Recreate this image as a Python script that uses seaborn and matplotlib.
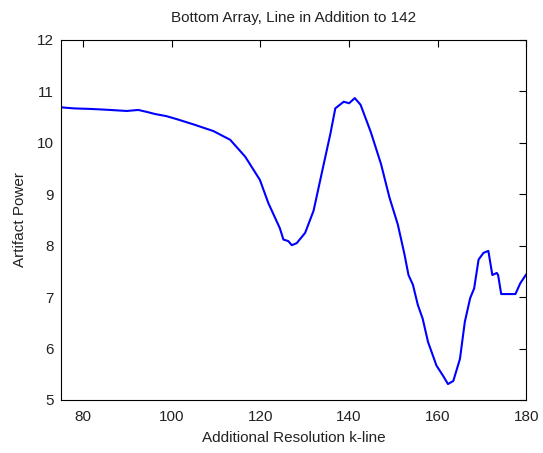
import matplotlib
matplotlib.use("Agg")
import matplotlib.pyplot as plt
import seaborn as sns
import pandas as pd

# Artifact power sampled along the additional resolution k-line
k_line = [75.2, 78.0, 81.6, 84.0, 86.1, 89.9, 92.5, 94.5, 96.3, 98.8, 101.2, 104.9,
          109.4, 113.2, 116.6, 119.9, 121.8, 124.4, 125.2, 126.3, 127.1, 128.2,
          130.1, 132.0, 134.3, 135.8, 136.9, 138.8, 140.0, 141.3, 142.6, 144.9,
          147.2, 149.1, 151.0, 152.5, 153.4, 154.4, 155.5, 156.6, 157.8, 159.7,
          161.2, 162.3, 163.5, 165.0, 166.1, 167.3, 168.2, 169.2, 170.3, 171.4,
          172.3, 173.3, 173.6, 174.3, 177.5, 178.6, 180.0]
artifact_power = [10.69, 10.67, 10.66, 10.65, 10.64, 10.62, 10.64, 10.60, 10.56, 10.52,
                  10.46, 10.36, 10.23, 10.06, 9.73, 9.28, 8.83, 8.34, 8.12, 8.09,
                  8.01, 8.05, 8.25, 8.68, 9.59, 10.18, 10.67, 10.80, 10.77, 10.87,
                  10.74, 10.21, 9.59, 8.94, 8.41, 7.83, 7.43, 7.24, 6.85, 6.58,
                  6.13, 5.67, 5.47, 5.31, 5.37, 5.80, 6.52, 6.98, 7.17, 7.73,
                  7.86, 7.90, 7.43, 7.47, 7.43, 7.06, 7.06, 7.27, 7.45]

x_ticks = [80, 100, 120, 140, 160, 180]
y_ticks = [5, 6, 7, 8, 9, 10, 11, 12]

sns.set_style("white")
plt.rcParams["font.family"] = ["Liberation Sans", "DejaVu Sans"]
plt.rcParams["font.size"] = 11

df = pd.DataFrame({"k": k_line, "power": artifact_power})

fig = plt.figure(figsize=(5.43, 4.53), dpi=100)
ax = fig.add_axes([0.1118, 0.117, 0.8578, 0.7947])
sns.lineplot(data=df, x="k", y="power", sort=False, estimator=None,
             color="#0000ff", linewidth=1.5, ax=ax)

ax.set_xlim(75, 180)
ax.set_ylim(5, 12)
ax.set_xticks(x_ticks)
ax.set_yticks(y_ticks)
ax.tick_params(direction="in", length=5, width=0.8, top=True, right=True,
               labelsize=11, colors="black", labelcolor="#222222")
ax.tick_params(axis="x", pad=7)
ax.tick_params(axis="y", pad=5)
for s in ax.spines.values():
    s.set_visible(True)
    s.set_color("black")
    s.set_linewidth(0.8)

ax.set_title("Bottom Array, Line in Addition to 142", fontsize=11, pad=13,
             color="#222222")
ax.set_xlabel("Additional Resolution k-line", fontsize=11, labelpad=5,
              color="#222222")
ax.set_ylabel("Artifact Power", fontsize=11, labelpad=7, color="#222222")

fig.savefig("out.png", dpi=100, facecolor="white")
